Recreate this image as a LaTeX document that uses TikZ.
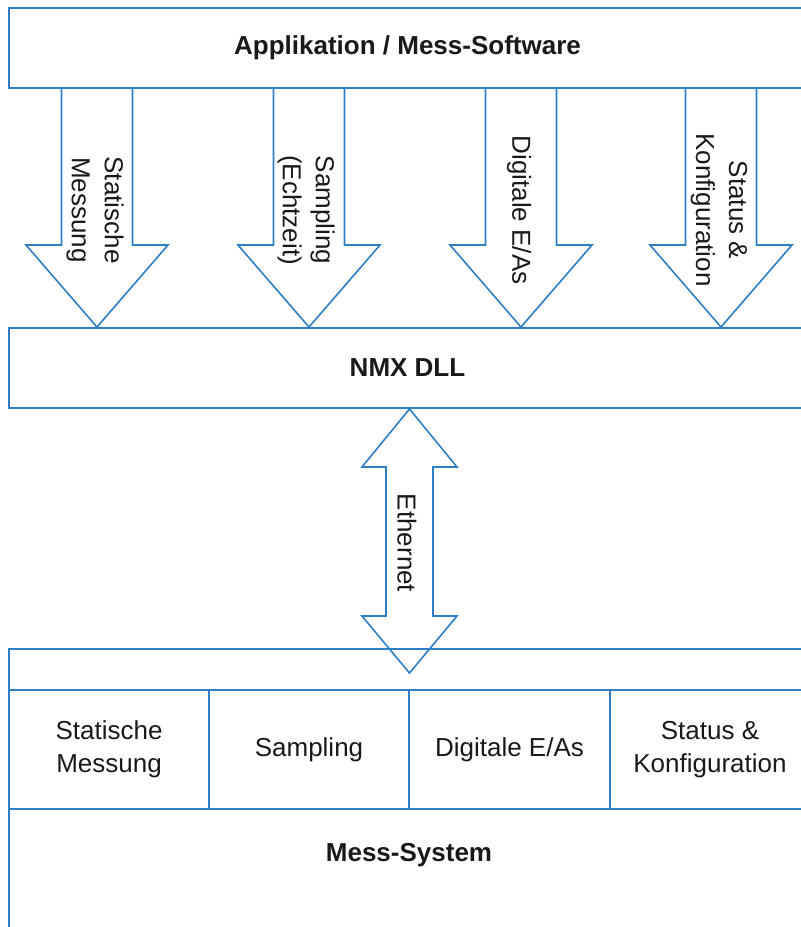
\documentclass[tikz,border=0pt]{standalone}
\usepackage{fontspec}
\setmainfont{Liberation Sans}
\definecolor{lineblue}{RGB}{46,126,198}
\definecolor{txt}{RGB}{25,25,25}
\begin{document}
\begin{tikzpicture}[x=1pt,y=-1pt,
  box/.style={draw=lineblue, line width=1.9pt, rectangle, inner sep=0pt, font=\fontsize{26}{32}\selectfont\bfseries, text=txt},
  cell/.style={draw=lineblue, line width=1.9pt, rectangle, inner sep=0pt, minimum height=119pt, font=\fontsize{26}{33}\selectfont, align=center, text=txt},
  blk/.style={draw=lineblue, line width=1.6pt, line join=miter},
  lbl/.style={font=\fontsize{26}{33}\selectfont, align=center, text=txt, inner sep=0pt},
  title/.style={font=\fontsize{26}{32}\selectfont\bfseries, text=txt, inner sep=0pt}
]
\useasboundingbox (0,0) rectangle (801,927);
\clip (0,0) rectangle (801,927);

% boxes
\node[box, minimum width=797pt, minimum height=80pt] (app) at (407.5,48) {Applikation / Mess-Software};
\node[box, minimum width=797pt, minimum height=80pt] (dll) at (407.5,368) {NMX DLL};
\node[box, minimum width=797pt, minimum height=300pt] (sys) at (407.5,799) {};
\node[title] (syslbl) at (409,855) {Mess-System};

% cells
\node[cell, minimum width=200pt] (c1) at (109,749.5) {Statische\\Messung};
\node[cell, minimum width=200pt] (c2) at (309,749.5) {Sampling};
\node[cell, minimum width=201pt] (c3) at (509.5,749.5) {Digitale E/As};
\node[cell, minimum width=200pt] (c4) at (710,749.5) {Status \&\\Konfiguration};

% block arrows down
\foreach \cx/\nm in {97/a1,309/a2,521/a3,721/a4}{
  \coordinate (\nm) at (\cx,0);
  \draw[blk] ([xshift=-35.5pt]\nm |- app.south) -- ([xshift=-35.5pt]\nm |- 0,245) -- ([xshift=-71pt]\nm |- 0,245)
     -- (\nm |- dll.north) -- ([xshift=71pt]\nm |- 0,245) -- ([xshift=35.5pt]\nm |- 0,245) -- ([xshift=35.5pt]\nm |- app.south);
}
\node[lbl, rotate=-90] (t1) at (95,210) {Statische\\Messung};
\node[lbl, rotate=-90] (t2) at (306,210) {Sampling\\(Echtzeit)};
\node[lbl, rotate=-90] (t3) at (519,210) {Digitale E/As};
\node[lbl, rotate=-90] (t4) at (719,210) {Status \&\\Konfiguration};

% Ethernet double arrow
\coordinate (e) at (409.5,0);
\draw[blk] (e |- dll.south) -- ([xshift=47.5pt]e |- 0,467) -- ([xshift=23.5pt]e |- 0,467)
  -- ([xshift=23.5pt]e |- 0,616) -- ([xshift=47.5pt]e |- 0,616) -- (e |- 0,673)
  -- ([xshift=-47.5pt]e |- 0,616) -- ([xshift=-23.5pt]e |- 0,616) -- ([xshift=-23.5pt]e |- 0,467)
  -- ([xshift=-47.5pt]e |- 0,467) -- cycle;
\node[lbl, rotate=-90] (eth) at (407,543) {Ethernet};
\end{tikzpicture}
\end{document}
